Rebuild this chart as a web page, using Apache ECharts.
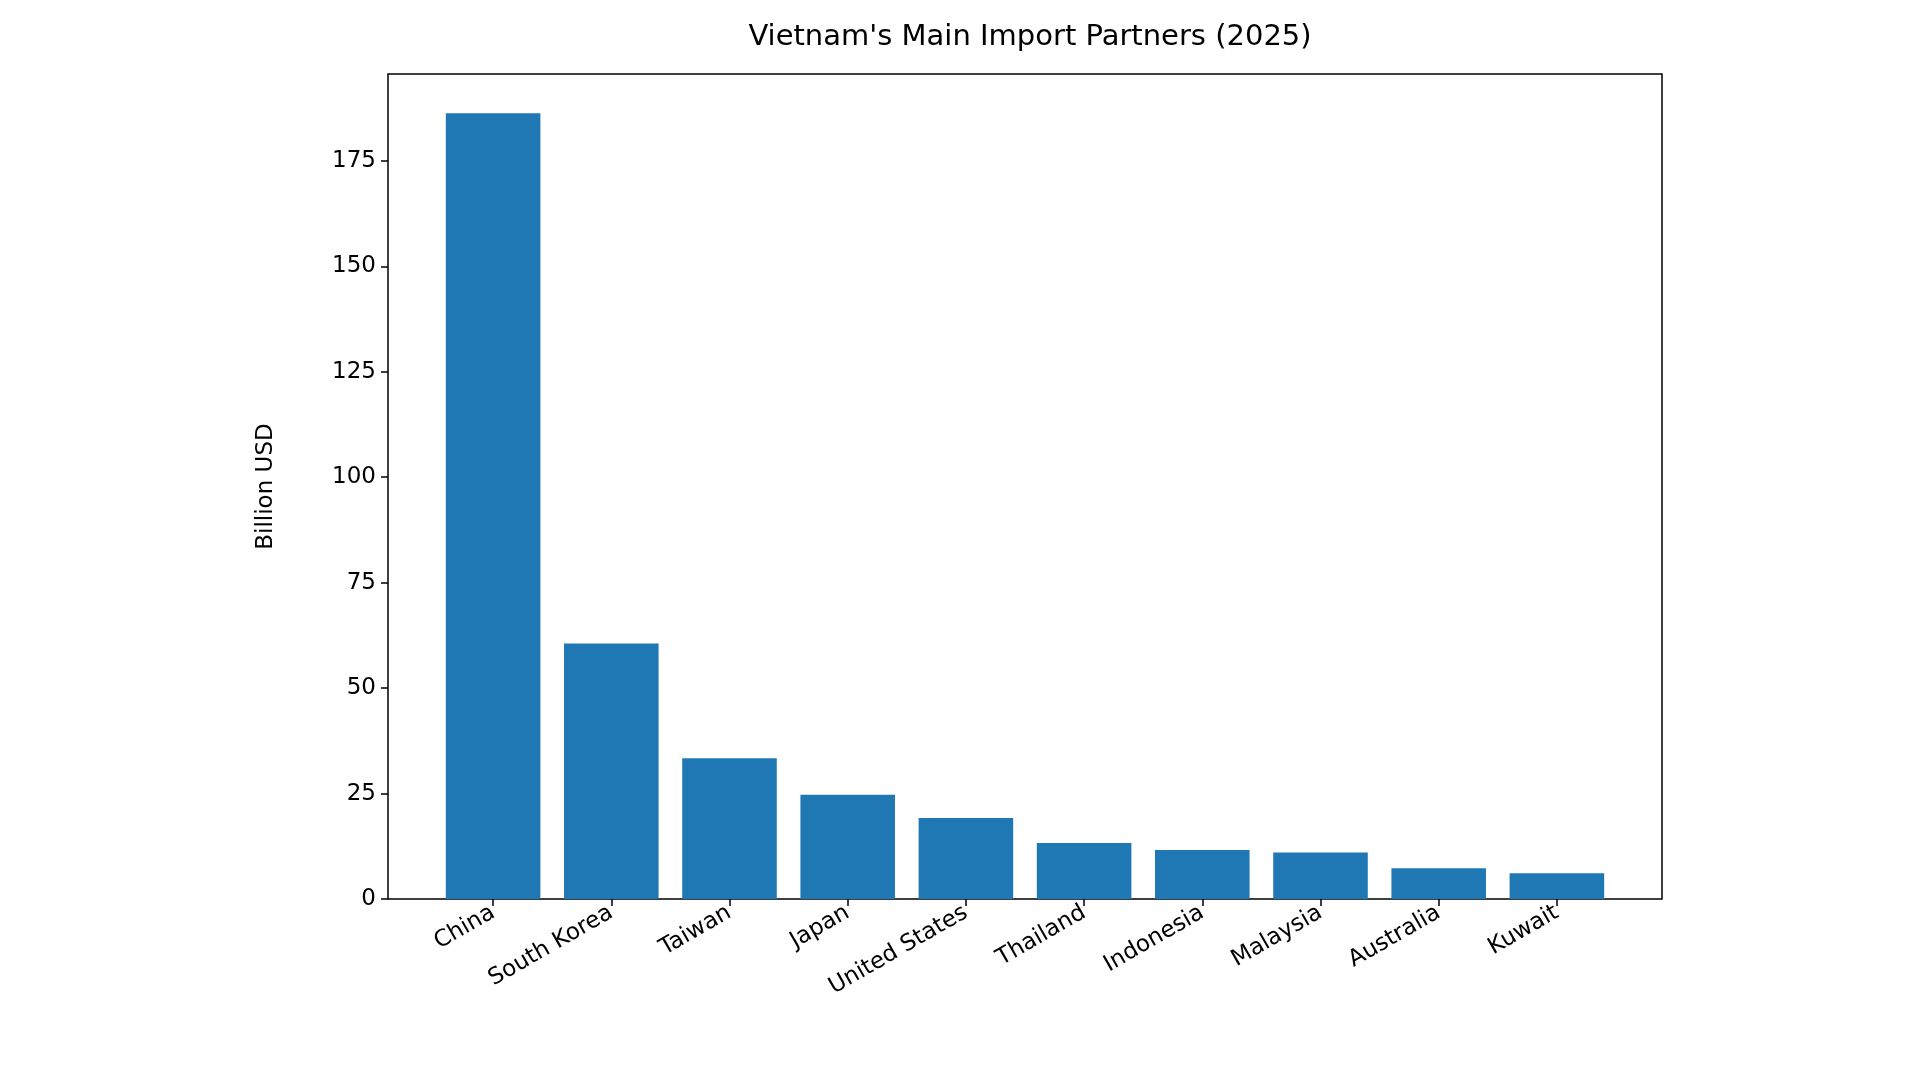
<!DOCTYPE html>
<html>
<head>
<meta charset="utf-8">
<script src="https://cdn.jsdelivr.net/npm/echarts@6/dist/echarts.min.js"></script>
<style>html,body{margin:0;background:#fff}#main{width:1920px;height:1080px}</style>
</head>
<body>
<div id="main"></div>
<script>
var partners = ['China','South Korea','Taiwan','Japan','United States','Thailand','Indonesia','Malaysia','Australia','Kuwait'];
var imports = [186.3, 60.6, 33.4, 24.7, 19.2, 13.3, 11.6, 11.0, 7.3, 6.1];
var yMax = 195.6;

var mychart = echarts.init(document.getElementById('main'));
var font = 'DejaVu Sans';
mychart.setOption({
	animation:false,
	textStyle:{fontFamily:font},
	title:{
		text:"Vietnam's Main Import Partners (2025)",
		left:1025, top:18, textAlign:'center',
		textStyle:{fontFamily:font,fontSize:29,fontWeight:'normal',color:'#000'}
	},
	grid:[
		{left:388,right:258,top:74,bottom:181,show:true,borderColor:'#000',borderWidth:1.5},
		{left:434,right:304,top:74,bottom:181}
	],
	xAxis:[
		{gridIndex:0,type:'value',min:0,max:1,show:false},
		{
			gridIndex:1,type:'category',data:partners,
			axisLine:{show:false},
			axisTick:{show:true,alignWithLabel:true,length:7,lineStyle:{color:'#000',width:1.5}},
			axisLabel:{rotate:30,fontSize:23,color:'#000',margin:12,interval:0}
		}
	],
	yAxis:[
		{
			gridIndex:0,type:'value',min:0,max:yMax,interval:25,
			name:'Billion USD',nameLocation:'middle',nameGap:110,
			nameTextStyle:{fontSize:23,color:'#000'},
			axisLine:{show:false},
			axisTick:{show:true,length:7,lineStyle:{color:'#000',width:1.5}},
			axisLabel:{fontSize:23,color:'#000',margin:12,showMaxLabel:false},
			splitLine:{show:false}
		},
		{gridIndex:1,type:'value',min:0,max:yMax,show:false}
	],
	series:[{
		type:'bar',xAxisIndex:1,yAxisIndex:1,
		data:imports,barCategoryGap:'20%',
		itemStyle:{color:'#1f77b4'}
	}]
});
</script>
</body>
</html>
